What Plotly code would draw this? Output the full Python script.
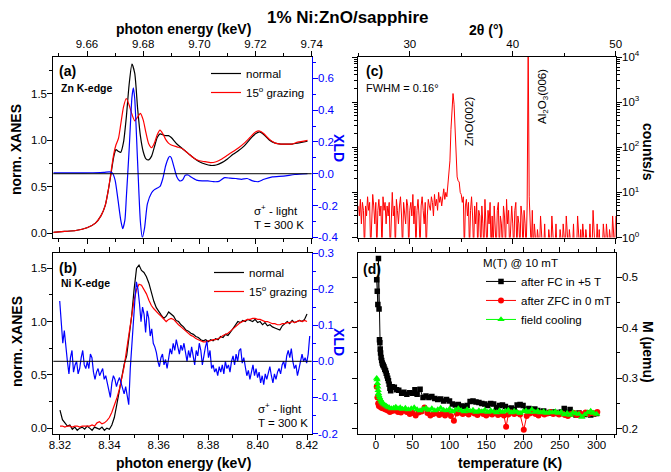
import numpy as np
import plotly.graph_objects as go

W, H = 671, 472
FONT = "Arial, Liberation Sans, sans-serif"

# ---------------- panel (a): Zn K-edge ----------------
E_zn = [9.648, 9.652, 9.656, 9.660, 9.663, 9.665, 9.6665, 9.6675, 9.6685, 9.6695,
        9.6703, 9.6712, 9.672, 9.673, 9.674, 9.675, 9.676, 9.677, 9.678, 9.679,
        9.680, 9.681, 9.682, 9.683, 9.684, 9.685, 9.686, 9.687, 9.688, 9.689,
        9.690, 9.692, 9.694, 9.696, 9.698, 9.700, 9.702, 9.704, 9.706, 9.708,
        9.710, 9.712, 9.714, 9.716, 9.718, 9.720, 9.7215, 9.723, 9.725, 9.727,
        9.729, 9.731, 9.733, 9.735, 9.7385]
zn_normal = [0.01, 0.02, 0.03, 0.06, 0.11, 0.19, 0.30, 0.45, 0.63, 0.82,
             0.90, 0.88, 0.87, 0.98, 1.25, 1.60, 1.82, 1.72, 1.35, 1.05,
             0.88, 0.80, 0.79, 0.83, 0.93, 1.03, 1.07, 1.06, 1.05, 1.05,
             1.03, 0.96, 0.91, 0.86, 0.81, 0.77, 0.745, 0.73, 0.735, 0.76,
             0.80, 0.85, 0.89, 0.94, 1.01, 1.07, 1.09, 1.06, 1.00, 0.97,
             0.96, 0.96, 0.96, 0.97, 0.99]
zn_grazing = [0.01, 0.02, 0.03, 0.06, 0.11, 0.19, 0.30, 0.45, 0.65, 0.85,
              0.95, 1.02, 1.17, 1.36, 1.45, 1.38, 1.28, 1.21, 1.25, 1.29,
              1.22, 1.08, 0.96, 0.92, 0.97, 1.06, 1.11, 1.07, 1.01, 0.97,
              0.95, 0.93, 0.91, 0.86, 0.81, 0.78, 0.77, 0.76, 0.77, 0.80,
              0.84, 0.88, 0.92, 0.97, 1.03, 1.09, 1.10, 1.07, 1.01, 0.97,
              0.96, 0.96, 0.96, 0.98, 1.00]
E_zn_xld = [9.648, 9.655, 9.662, 9.666, 9.668, 9.669, 9.670, 9.671, 9.672, 9.6727,
            9.6735, 9.674, 9.675, 9.676, 9.6765, 9.677, 9.678, 9.679, 9.6797, 9.6805,
            9.6815, 9.683, 9.684, 9.685, 9.686, 9.687, 9.688, 9.689, 9.6895, 9.690,
            9.691, 9.692, 9.693, 9.694, 9.695, 9.696, 9.697, 9.699, 9.701, 9.703,
            9.705, 9.707, 9.709, 9.711, 9.713, 9.715, 9.717, 9.719, 9.721, 9.723,
            9.726, 9.730, 9.734, 9.7385]
zn_xld = [0.005, 0.005, 0.006, 0.008, 0.012, 0.005, -0.04, -0.16, -0.29, -0.345,
          -0.29, -0.15, 0.15, 0.48, 0.54, 0.47, 0.08, -0.30, -0.40, -0.34,
          -0.19, -0.12, -0.10, -0.09, -0.08, -0.03, 0.05, 0.10, 0.11, 0.10,
          0.04, -0.02, -0.045, -0.04, -0.01, -0.008, -0.02, -0.04, -0.045, -0.045,
          -0.05, -0.048, -0.025, -0.028, -0.03, -0.035, -0.03, -0.045, -0.05, -0.035,
          -0.02, -0.015, -0.005, 0.0]

# ---------------- panel (b): Ni K-edge ----------------
ni_normal = [0.17, 0.08, 0.05, 0.02, 0.03, -0.01, 0.01, -0.02, 0.0, 0.01,
             -0.01, 0.02, 0.0, -0.02, 0.01, 0.0, -0.01, 0.01, -0.02, 0.0,
             -0.01, 0.03, 0.10, 0.22, 0.36, 0.50, 0.60, 0.68, 0.85, 1.05,
             1.30, 1.50, 1.53, 1.48, 1.46, 1.42, 1.36, 1.27, 1.19, 1.13,
             1.09, 1.06, 1.03, 1.05, 1.09, 1.07, 1.05, 1.01, 1.00, 0.97,
             0.95, 0.92, 0.91, 0.89, 0.88, 0.86, 0.85, 0.83, 0.82, 0.83,
             0.81, 0.83, 0.82, 0.84, 0.83, 0.86, 0.85, 0.88, 0.87, 0.90,
             0.93, 0.97, 1.00, 0.99, 1.01, 1.00, 1.02, 1.01, 1.00, 1.02,
             0.99, 1.00, 0.97, 0.99, 0.96, 0.97, 0.95, 0.94, 0.93, 0.92,
             0.96, 0.98, 1.00, 0.98, 1.01, 0.99, 1.00, 1.01, 1.00, 1.02,
             1.07]
ni_grazing = [0.02, 0.02, 0.01, 0.02, 0.02, 0.01, 0.02, 0.02, 0.01, 0.02,
              0.02, 0.02, 0.02, 0.03, 0.02, 0.05, 0.06, 0.04, 0.05, 0.07,
              0.10, 0.15, 0.21, 0.28, 0.36, 0.46, 0.58, 0.74, 0.90, 1.05,
              1.20, 1.30, 1.35, 1.34, 1.30, 1.26, 1.20, 1.15, 1.12, 1.09,
              1.07, 1.05, 1.02, 1.00, 1.02, 1.03, 1.02, 0.99, 0.97, 0.95,
              0.93, 0.91, 0.89, 0.87, 0.86, 0.84, 0.83, 0.82, 0.81, 0.81,
              0.82, 0.82, 0.83, 0.83, 0.84, 0.85, 0.87, 0.88, 0.89, 0.91,
              0.93, 0.95, 0.97, 0.99, 1.00, 1.01, 1.02, 1.02, 1.03, 1.03,
              1.02, 1.02, 1.01, 1.00, 1.00, 0.99, 0.98, 0.98, 0.97, 0.97,
              0.98, 0.98, 0.99, 0.99, 1.00, 0.99, 1.00, 1.01, 1.00, 1.01,
              1.00]
E_ni = np.round(np.linspace(8.320, 8.420, len(ni_normal)), 4)
ni_xld = [0.167, 0.09, 0.05, 0.085, 0.03, 0.0, -0.035, 0.01, 0.03, -0.03,
          -0.01, 0.0, -0.035, -0.02, 0.01, 0.03, -0.01, -0.02, 0.0, -0.02,
          0.02, 0.01, -0.03, -0.05, -0.03, -0.02, -0.04, -0.03, -0.02, -0.05,
          -0.04, -0.06, -0.08, -0.10, -0.06, -0.04, -0.05, -0.07, -0.055, -0.045,
          -0.06, -0.08, -0.09, -0.07, -0.10, -0.12, -0.02, 0.05, 0.12, 0.17,
          0.22, 0.20, 0.16, 0.11, 0.15, 0.13, 0.08, 0.14, 0.12, 0.07,
          0.09, 0.05, 0.04, 0.025, 0.0, -0.015, 0.01, 0.02, -0.01, 0.005,
          -0.02, 0.01, 0.035, 0.02, 0.05, 0.03, 0.06, 0.04, 0.02, 0.045,
          0.03, 0.05, 0.02, 0.0, 0.03, 0.01, 0.04, 0.02, -0.01, 0.03,
          0.015, 0.05, 0.03, -0.01, 0.02, 0.04, 0.055, 0.01, 0.03, -0.02,
          -0.01, -0.03, -0.02, -0.04, -0.015, -0.03, -0.01, -0.035, 0.0, -0.02,
          -0.01, -0.03, 0.0, 0.015, -0.01, 0.02, 0.0, 0.03, 0.035, -0.005,
          0.01, -0.02, -0.04, -0.025, -0.05, -0.03, -0.01, -0.04, -0.02, -0.045,
          -0.03, -0.06, -0.04, -0.065, -0.035, -0.05, -0.03, -0.015, -0.04, -0.06,
          -0.035, -0.05, -0.03, -0.02, -0.035, -0.01, 0.0, -0.02, 0.015, 0.03,
          0.01, 0.035, 0.0, -0.02, -0.01, -0.04, -0.02, 0.0, 0.02, 0.0,
          0.01, -0.005, 0.02, 0.07]
E_ni_xld = np.linspace(8.3199, 8.4211, len(ni_xld))

# ---------------- panel (c): XRD ----------------
two_theta = np.round(np.arange(25.0, 50.001, 0.1), 1)
counts = [5, 3, 7, 2, 6, 4, 0.5, 5, 3, 8,
          4, 6, 0.5, 3, 9, 5, 2, 6, 0.5, 4,
          7, 3, 5, 0.5, 8, 4, 6, 2, 5, 3,
          6, 0.5, 4, 10, 3, 5, 0.5, 7, 4, 2,
          5, 8, 3, 0.5, 6, 4, 2, 7, 5, 0.5,
          4, 6, 3, 9, 2, 5, 0.5, 4, 7, 3,
          0.5, 5, 8, 4, 2, 6, 0.5, 3, 7, 5,
          4, 8, 6, 3, 9, 5, 7, 4, 10, 6,
          8, 5, 9, 12, 7, 10, 8, 16, 22, 50,
          250, 800, 1550, 900, 250, 45, 22, 18, 17, 10,
          9, 6, 8, 0.5, 5, 7, 3, 6, 0.5, 4,
          8, 3, 0.5, 5, 2, 6, 0.5, 4, 3, 0.5,
          5, 2, 0.5, 7, 3, 0.5, 4, 2, 6, 0.5,
          3, 0.5, 5, 2, 0.5, 4, 6, 0.5, 3, 2,
          0.5, 5, 3, 0.5, 7, 2, 4, 0.5, 3, 5,
          2, 0.5, 4, 6, 0.5, 3, 2, 0.5, 5, 3,
          0.5, 4, 2, 0.5, 5, 20000, 8, 3, 0.5, 4,
          0.5, 2, 0.5, 0.5, 1.5, 0.5, 0.5, 3, 0.5, 0.5,
          0.5, 2, 0.5, 0.5, 0.5, 1.5, 0.5, 0.5, 3, 0.5,
          0.5, 0.5, 2, 0.5, 0.5, 0.5, 1.5, 0.5, 0.5, 2,
          0.5, 0.5, 3, 0.5, 0.5, 1.5, 0.5, 0.5, 0.5, 2,
          0.5, 0.5, 0.5, 3, 0.5, 0.5, 1.5, 0.5, 2, 0.5,
          0.5, 1.5, 0.5, 0.5, 0.5, 2, 0.5, 0.5, 4, 0.5,
          0.5, 0.5, 2, 0.5, 1.5, 0.5, 0.5, 0.5, 2, 0.5,
          0.5, 2, 0.5, 0.5, 1.5, 0.5, 0.5, 3, 0.5, 0.5,
          3]

# ---------------- panel (d): M(T) ----------------
T_fc = [1.0, 1.8, 2.6, 3.4, 4.2, 4.8, 5.3, 5.8, 6.3, 7.0, 7.8, 8.5, 9.3, 10, 11, 12, 13, 14, 15, 16,
        17, 18, 19, 20, 22, 25, 28, 31, 35, 38, 42, 46, 50, 53, 56, 60, 64, 68, 72, 76,
        80, 84, 88, 92, 96, 100, 104, 108, 112, 116, 120, 124, 128, 132, 136, 140, 144, 148, 152, 156,
        160, 164, 168, 172, 176, 180, 184, 188, 192, 196, 200, 204, 208, 212, 216, 220, 224, 228, 232, 236,
        240, 244, 248, 252, 256, 260, 264, 268, 272, 276, 280, 284, 288, 292, 296, 300]
M_fc = [0.495, 0.472, 0.446, 0.537, 0.437, 0.376, 0.370, 0.358, 0.350, 0.341,
        0.335, 0.330, 0.327, 0.325, 0.322, 0.318, 0.315, 0.310, 0.305, 0.300,
        0.295, 0.288, 0.280, 0.275, 0.283, 0.282, 0.277, 0.276, 0.270, 0.272,
        0.268, 0.271, 0.270, 0.277, 0.268, 0.278, 0.262, 0.265, 0.262, 0.264,
        0.260, 0.258, 0.259, 0.255, 0.258, 0.255, 0.249, 0.247, 0.248, 0.245,
        0.244, 0.246, 0.254, 0.255, 0.253, 0.252, 0.250, 0.249, 0.246, 0.250,
        0.249, 0.242, 0.246, 0.247, 0.244, 0.240, 0.241, 0.238, 0.247, 0.248,
        0.246, 0.238, 0.240, 0.237, 0.239, 0.236, 0.233, 0.235, 0.232, 0.231,
        0.233, 0.232, 0.230, 0.233, 0.240, 0.232, 0.238, 0.230, 0.227, 0.231,
        0.227, 0.228, 0.231, 0.227, 0.229, 0.230]
T_zfc = [1, 2, 3, 4, 6, 8, 10, 13, 16, 19, 22, 26, 30, 34, 38, 42, 46, 50, 54, 58,
         62, 66, 70, 74, 78, 82, 86, 90, 94, 98, 102, 106, 110, 114, 118, 122, 126, 130, 134, 138,
         142, 146, 150, 154, 158, 162, 166, 170, 174, 177, 180, 184, 188, 192, 196, 201, 205, 209, 213, 217,
         221, 225, 229, 233, 237, 241, 245, 249, 253, 257, 261, 265, 269, 273, 277, 281, 285, 289, 293, 297, 301]
M_zfc = [0.283, 0.262, 0.250, 0.245, 0.243, 0.241, 0.240, 0.238, 0.236, 0.233,
         0.235, 0.236, 0.233, 0.232, 0.236, 0.233, 0.229, 0.231, 0.226, 0.232,
         0.234, 0.242, 0.231, 0.226, 0.229, 0.231, 0.227, 0.230, 0.226, 0.231,
         0.225, 0.216, 0.230, 0.232, 0.229, 0.231, 0.228, 0.233, 0.230, 0.227,
         0.232, 0.229, 0.226, 0.230, 0.228, 0.231, 0.227, 0.229, 0.226, 0.204,
         0.228, 0.232, 0.229, 0.231, 0.228, 0.198, 0.225, 0.230, 0.232, 0.229,
         0.226, 0.231, 0.228, 0.230, 0.233, 0.229, 0.231, 0.228, 0.230, 0.227,
         0.225, 0.229, 0.231, 0.227, 0.230, 0.228, 0.232, 0.229, 0.231, 0.230,
         0.233]
T_fcool = [1, 1.5, 2, 2.5, 3, 3.5, 4, 5, 6, 7, 8, 9, 10, 12, 14, 16, 18, 21, 24, 27,
           30, 33, 36, 40, 44, 48, 52, 56, 60, 64, 68, 72, 76, 80, 84, 88, 92, 96, 100, 104,
           108, 112, 116, 120, 124, 128, 132, 136, 140, 144, 148, 152, 156, 160, 164, 168, 172, 176, 180, 184,
           188, 192, 196, 200, 204, 208, 212, 216, 220, 224, 228, 232, 236, 240, 244, 248, 252, 256, 260, 264,
           268, 272, 276, 280, 284, 288, 292, 296, 300]
M_fcool = [0.300, 0.297, 0.290, 0.283, 0.276, 0.270, 0.266, 0.262, 0.258, 0.255,
           0.253, 0.251, 0.249, 0.247, 0.245, 0.243, 0.242, 0.240, 0.241, 0.243,
           0.240, 0.242, 0.239, 0.241, 0.238, 0.240, 0.242, 0.238, 0.236, 0.239,
           0.241, 0.237, 0.240, 0.236, 0.238, 0.241, 0.237, 0.236, 0.239, 0.234,
           0.237, 0.240, 0.236, 0.234, 0.238, 0.235, 0.237, 0.233, 0.236, 0.234,
           0.237, 0.233, 0.236, 0.234, 0.232, 0.236, 0.233, 0.235, 0.237, 0.232,
           0.235, 0.233, 0.231, 0.234, 0.236, 0.233, 0.238, 0.233, 0.235, 0.232,
           0.234, 0.231, 0.233, 0.232, 0.234, 0.231, 0.233, 0.228, 0.231, 0.227,
           0.232, 0.230, 0.229, 0.223, 0.228, 0.232, 0.235, 0.231, 0.229]

BLACK, RED, BLUE, GREEN = "#000000", "#ff0000", "#0000ff", "#00ff00"


def px(x):
    return x / W


def py(y):
    return 1 - y / H


# panel frames in pixels
LX = (53.3, 311.7)
RX = (358.3, 615.7)
TY = (57.0, 237.5)
BY = (253.0, 433.5)
dom_x_l = [px(LX[0]), px(LX[1])]
dom_x_r = [px(RX[0]), px(RX[1])]
dom_y_t = [py(TY[1]), py(TY[0])]
dom_y_b = [py(BY[1]), py(BY[0])]

fig = go.Figure()

# (a)
fig.add_trace(go.Scatter(x=E_zn, y=zn_normal, xaxis="x", yaxis="y", mode="lines",
                         line=dict(color=BLACK, width=1.2, shape="spline", smoothing=0.6),
                         name="normal", legend="legend"))
fig.add_trace(go.Scatter(x=E_zn, y=zn_grazing, xaxis="x", yaxis="y", mode="lines",
                         line=dict(color=RED, width=1.2, shape="spline", smoothing=0.6),
                         name="15<sup>o</sup> grazing", legend="legend"))
fig.add_trace(go.Scatter(x=E_zn_xld, y=zn_xld, xaxis="x", yaxis="y2", mode="lines",
                         line=dict(color=BLUE, width=1.2, shape="spline", smoothing=0.6),
                         showlegend=False))
# (b)
fig.add_trace(go.Scatter(x=E_ni, y=ni_normal, xaxis="x2", yaxis="y3", mode="lines",
                         line=dict(color=BLACK, width=1.2), name="normal", legend="legend2"))
fig.add_trace(go.Scatter(x=E_ni, y=ni_grazing, xaxis="x2", yaxis="y3", mode="lines",
                         line=dict(color=RED, width=1.2), name="15<sup>o</sup> grazing", legend="legend2"))
fig.add_trace(go.Scatter(x=E_ni_xld, y=ni_xld, xaxis="x2", yaxis="y4", mode="lines",
                         line=dict(color=BLUE, width=1.2), showlegend=False))
# (c)
fig.add_trace(go.Scatter(x=two_theta, y=counts, xaxis="x3", yaxis="y5", mode="lines",
                         line=dict(color=RED, width=1), showlegend=False))
# (d)
fig.add_trace(go.Scatter(x=T_fc, y=M_fc, xaxis="x4", yaxis="y6", mode="lines+markers",
                         line=dict(color=BLACK, width=1), marker=dict(symbol="square", size=5.5, color=BLACK),
                         name="after FC in +5 T", legend="legend3"))
fig.add_trace(go.Scatter(x=T_zfc, y=M_zfc, xaxis="x4", yaxis="y6", mode="lines+markers",
                         line=dict(color=RED, width=1), marker=dict(symbol="circle", size=6, color=RED),
                         name="after ZFC in 0 mT", legend="legend3"))
fig.add_trace(go.Scatter(x=T_fcool, y=M_fcool, xaxis="x4", yaxis="y6", mode="lines+markers",
                         line=dict(color=GREEN, width=1), marker=dict(symbol="triangle-up", size=6.5, color=GREEN),
                         name="field cooling", legend="legend3"))

TF = dict(family=FONT, size=11.5, color=BLACK)


def ax(**kw):
    base = dict(showline=True, linecolor=BLACK, linewidth=1, ticks="outside", ticklen=5,
                tickwidth=1, tickcolor=BLACK, showgrid=False, zeroline=False,
                tickfont=TF, automargin=False, ticklabelstandoff=-2)
    base.update(kw)
    return base


def minor(dt, t0=0, color=BLACK):
    return dict(ticks="outside", ticklen=3, tickwidth=1, tickcolor=color,
                tickmode="linear", tick0=t0, dtick=dt, showgrid=False)


blue_tf = dict(family=FONT, size=11.5, color=BLUE)
log_minor = [m * 10 ** k for k in range(0, 4) for m in range(2, 10)]

fig.update_layout(
    width=W, height=H, margin=dict(l=0, r=0, t=0, b=0),
    paper_bgcolor="white", plot_bgcolor="white", font=dict(family=FONT, color=BLACK),
    xaxis=ax(domain=dom_x_l, anchor="y", side="top", range=[9.648, 9.74], tick0=9.66, dtick=0.02,
             tickformat=".2f", mirror="ticks", minor=minor(0.01, 9.66)),
    yaxis=ax(domain=dom_y_t, anchor="x", range=[-0.045, 1.896], tick0=0, dtick=0.5,
             tickformat=".1f", minor=minor(0.25)),
    yaxis2=ax(overlaying="y", anchor="x", side="right", range=[-0.401, 0.734],
              tickmode="array", tickvals=[-0.4, -0.2, 0, 0.2, 0.4, 0.6],
              ticktext=["-0.4", "-0.2", "0.0", "0.2", "0.4", "0.6"],
              linecolor=BLUE, tickcolor=BLUE, tickfont=blue_tf, minor=minor(0.1, 0, BLUE)),
    xaxis2=ax(domain=dom_x_l, anchor="y3", side="bottom", range=[8.3173, 8.4219], tick0=8.32, dtick=0.02,
              tickformat=".2f", mirror="ticks", minor=minor(0.01, 8.32), ticklabelstandoff=-4),
    yaxis3=ax(domain=dom_y_b, anchor="x2", range=[-0.05, 1.643], tick0=0, dtick=0.5,
              tickformat=".1f", minor=minor(0.25)),
    yaxis4=ax(overlaying="y3", anchor="x2", side="right", range=[-0.2, 0.3],
              tickmode="array", tickvals=[-0.2, -0.1, 0, 0.1, 0.2, 0.3],
              ticktext=["-0.2", "-0.1", "0.0", "0.1", "0.2", "0.3"],
              linecolor=BLUE, tickcolor=BLUE, tickfont=blue_tf, minor=minor(0.05, 0, BLUE)),
    xaxis3=ax(domain=dom_x_r, anchor="y5", side="top", range=[25, 50], tick0=0, dtick=10,
              mirror="ticks", minor=minor(5)),
    yaxis5=ax(domain=dom_y_t, anchor="x3", side="right", type="log", range=[0, 4],
              tickmode="array", tickvals=[1, 10, 100, 1000, 10000],
              ticktext=["10<sup>0</sup>", "10<sup>1</sup>", "10<sup>2</sup>", "10<sup>3</sup>", "10<sup>4</sup>"],
              mirror="ticks",
              minor=dict(ticks="outside", ticklen=3, tickwidth=1, tickcolor=BLACK,
                         tickmode="array", tickvals=log_minor, showgrid=False)),
    xaxis4=ax(domain=dom_x_r, anchor="y6", side="bottom", range=[-24, 326], tick0=0, dtick=50,
              mirror="ticks", minor=minor(25), ticklabelstandoff=-4),
    yaxis6=ax(domain=dom_y_b, anchor="x4", side="right", range=[0.1905, 0.548], tick0=0, dtick=0.1,
              tickformat=".1f", mirror="ticks", minor=minor(0.05)),
    legend=dict(x=px(206), y=py(59), xanchor="left", yanchor="top", bgcolor="rgba(0,0,0,0)",
                font=dict(family=FONT, size=11.5, color=BLACK), tracegroupgap=0),
    legend2=dict(x=px(209), y=py(258), xanchor="left", yanchor="top", bgcolor="rgba(0,0,0,0)",
                 font=dict(family=FONT, size=11.5, color=BLACK), tracegroupgap=0),
    legend3=dict(x=px(481), y=py(252), xanchor="left", yanchor="top", bgcolor="rgba(0,0,0,0)",
                 font=dict(family=FONT, size=11.5, color=BLACK), tracegroupgap=0,
                 title=dict(text="M(T) @ 10 mT", font=dict(family=FONT, size=11.5, color=BLACK))),
)

# zero lines of the XLD axes
fig.add_shape(type="line", xref="x domain", x0=0, x1=1, yref="y2", y0=0, y1=0,
              line=dict(color=BLACK, width=1))
fig.add_shape(type="line", xref="x2 domain", x0=0, x1=1, yref="y4", y0=0, y1=0,
              line=dict(color=BLACK, width=1))


def ann(text, x, y, size=11.5, bold=False, color=BLACK, angle=0, xanchor="left"):
    t = f"<b>{text}</b>" if bold else text
    fig.add_annotation(text=t, x=px(x), y=py(y), xref="paper", yref="paper", showarrow=False,
                       xanchor=xanchor, yanchor="middle", textangle=angle,
                       font=dict(family=FONT, size=size, color=color))


ann("1% Ni:ZnO/sapphire", 348, 17, size=17, bold=True, xanchor="center")
ann("photon energy (keV)", 183, 29, size=14, bold=True, xanchor="center")
ann("photon energy (keV)", 183, 463, size=14, bold=True, xanchor="center")
ann("2θ (°)", 486, 30, size=14, bold=True, xanchor="center")
ann("temperature (K)", 510, 463, size=14, bold=True, xanchor="center")
ann("norm. XANES", 16, 150, size=14, bold=True, angle=-90, xanchor="center")
ann("norm. XANES", 17, 342, size=14, bold=True, angle=-90, xanchor="center")
ann("XLD", 339, 148, size=14, bold=True, angle=90, color=BLUE, xanchor="center")
ann("XLD", 339, 342, size=14, bold=True, angle=90, color=BLUE, xanchor="center")
ann("counts/s", 648, 152, size=14, bold=True, angle=90, xanchor="center")
ann("M (µemu)", 648, 352, size=14, bold=True, angle=90, xanchor="center")

ann("(a)", 57, 71, size=14, bold=True)
ann("Zn K-edge", 59, 88, size=10.5, bold=True)
ann("σ<sup>+</sup> - light", 252, 210, size=11.5)
ann("T = 300 K", 252, 225, size=11.5)
ann("(b)", 57, 268, size=14, bold=True)
ann("Ni K-edge", 59, 283, size=10.5, bold=True)
ann("σ<sup>+</sup> - light", 256, 408, size=11.5)
ann("T = 300 K", 256, 423, size=11.5)
ann("(c)", 364, 71, size=14, bold=True)
ann("FWHM = 0.16°", 364, 88, size=11)
ann("ZnO(002)", 469, 122, size=11.5, angle=-90, xanchor="center")
ann("Al<sub>2</sub>O<sub>3</sub>(006)", 543, 97, size=11.5, angle=-90, xanchor="center")
ann("(d)", 361, 269, size=14, bold=True)

fig.write_html("out.html", config={"displayModeBar": False},
               post_script="document.body.style.margin='0px';")
